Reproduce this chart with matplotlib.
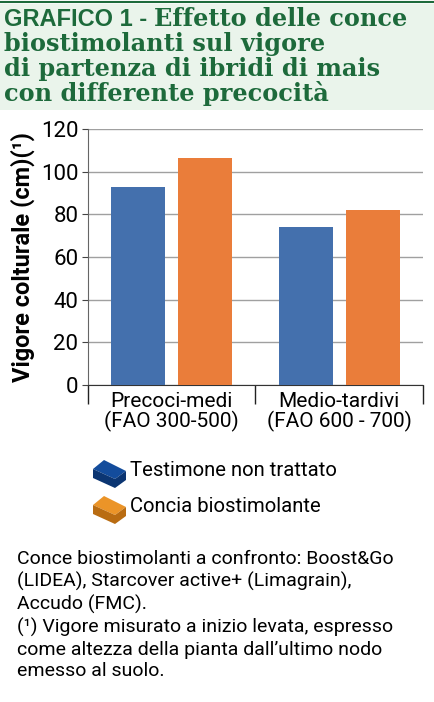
import numpy as np
import matplotlib
matplotlib.use('Agg')
import matplotlib.pyplot as plt
from matplotlib.patches import Rectangle, Polygon
from matplotlib.lines import Line2D

# dati
categorie = ['Precoci-medi\n(FAO 300-500)', 'Medio-tardivi\n(FAO 600 - 700)']
testimone = [93, 74]
concia = [106.5, 82]
serie = ['Testimone non trattato', 'Concia biostimolante']
yticks = [0, 20, 40, 60, 80, 100, 120]

W, H = 435, 702
BLU = '#4470ad'
ARANCIO = '#ea7d3a'
VERDE = '#1d6a3b'
SANS = ['Roboto', 'DejaVu Sans']


def px(x, y):
    return x / W, 1 - y / H


fig = plt.figure(figsize=(W / 100, H / 100), dpi=100)

# fascia del titolo
fig.patches.append(Rectangle(px(0, 110), 1, 106 / H, transform=fig.transFigure,
                             facecolor='#eaf4eb', edgecolor='none', zorder=0))
fig.lines.append(Line2D([0, 1], [1 - 2 / H, 1 - 2 / H], transform=fig.transFigure,
                        color=VERDE, lw=1.5))

t = fig.text(*px(4, 26), 'GRAFICO 1 - ', fontsize=17, fontweight='bold', color=VERDE,
             family=['Liberation Sans', 'DejaVu Sans'], va='baseline')
fig.canvas.draw()
bb = t.get_window_extent()
fig.text(bb.x1 / W, 1 - 26 / H, 'Effetto delle conce', fontsize=17.3, fontweight='bold',
         color=VERDE, family='DejaVu Serif', va='baseline')
righe = ['biostimolanti sul vigore', 'di partenza di ibridi di mais', 'con differente precocità']
for i, r in enumerate(righe):
    fig.text(*px(4, 51 + i * 25), r, fontsize=17.3, fontweight='bold', color=VERDE,
             family='DejaVu Serif', va='baseline')

# grafico a barre
ax = fig.add_axes([88 / W, 1 - 385 / H, 335 / W, 256 / H])
x = np.arange(len(categorie))
ax.bar(x - 0.2, testimone, width=0.32, color=BLU, zorder=3)
ax.bar(x + 0.2, concia, width=0.32, color=ARANCIO, zorder=3)
ax.set_xlim(-0.5, 1.5)
ax.set_ylim(0, 120)
ax.set_yticks(yticks)
ax.set_yticklabels([str(v) for v in yticks], family=SANS, fontsize=16)
ax.yaxis.grid(True, color='#a0a0a0', lw=1)
ax.set_xticks(x)
ax.set_xticklabels(categorie, family=SANS, fontsize=15, linespacing=1.0)
ax.set_xticks([-0.5, 0.5, 1.5], minor=True)
ax.tick_params(axis='x', which='major', length=0, pad=5)
ax.tick_params(axis='x', which='minor', length=14, width=1, color='#222222')
ax.tick_params(axis='y', length=4, color='#444444', pad=3)
for s in ['top', 'right']:
    ax.spines[s].set_visible(False)
ax.spines['left'].set_color('#666666')
ax.spines['bottom'].set_color('#333333')
ax.set_ylabel('Vigore colturale (cm)(¹)', family=SANS, fontsize=17, fontweight='bold',
              labelpad=4)

# legenda con icone a parallelepipedo
def cubo(x0, y0, top, front):
    a = [px(x0, y0 + 9), px(x0 + 11, y0), px(x0 + 33, y0 + 11), px(x0 + 22, y0 + 19)]
    b = [px(x0, y0 + 9), px(x0 + 22, y0 + 19), px(x0 + 22, y0 + 28), px(x0, y0 + 18)]
    c = [px(x0 + 22, y0 + 19), px(x0 + 33, y0 + 11), px(x0 + 33, y0 + 20), px(x0 + 22, y0 + 28)]
    for pts, col in [(a, top), (b, front), (c, front)]:
        fig.patches.append(Polygon(pts, closed=True, transform=fig.transFigure,
                                   facecolor=col, edgecolor='none'))

cubo(93, 460, '#134c9c', '#0b3572')
cubo(93, 496, '#eb9428', '#b96c12')
fig.text(*px(130, 471), serie[0], family=SANS, fontsize=14.6, va='center')
fig.text(*px(130, 507), serie[1], family=SANS, fontsize=14.6, va='center')

note = ('Conce biostimolanti a confronto: Boost&Go\n'
        '(LIDEA), Starcover active+ (Limagrain),\n'
        'Accudo (FMC).\n'
        '(¹) Vigore misurato a inizio levata, espresso\n'
        'come altezza della pianta dall\u2019ultimo nodo\n'
        'emesso al suolo.')
fig.text(*px(17, 550), note, family=SANS, fontsize=14, va='top', linespacing=1.26)

fig.savefig('out.png', dpi=100)
